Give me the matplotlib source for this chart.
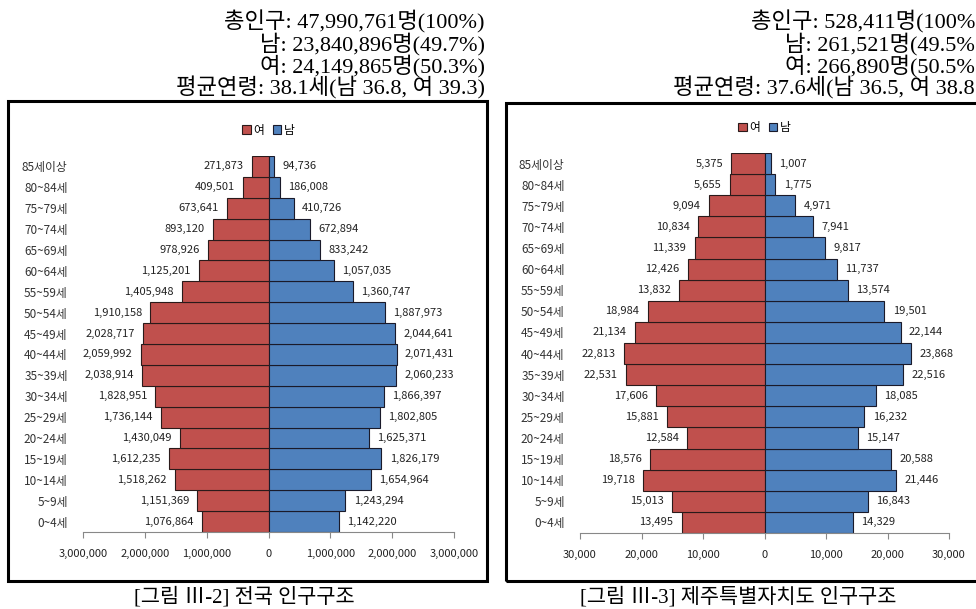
import matplotlib
matplotlib.use("Agg")
import matplotlib.pyplot as plt
from matplotlib.patches import Rectangle
from matplotlib.ticker import FuncFormatter

plt.rcParams['font.family'] = ['Noto Sans CJK KR', 'DejaVu Sans']
SERIF = ['Liberation Serif', 'Noto Sans CJK KR', 'DejaVu Sans']

# age groups, bottom to top
ages = ['0~4세', '5~9세', '10~14세', '15~19세', '20~24세', '25~29세', '30~34세',
        '35~39세', '40~44세', '45~49세', '50~54세', '55~59세', '60~64세',
        '65~69세', '70~74세', '75~79세', '80~84세', '85세이상']

nat_female = [1076864, 1151369, 1518262, 1612235, 1430049, 1736144, 1828951,
              2038914, 2059992, 2028717, 1910158, 1405948, 1125201, 978926,
              893120, 673641, 409501, 271873]
nat_male = [1142220, 1243294, 1654964, 1826179, 1625371, 1802805, 1866397,
            2060233, 2071431, 2044641, 1887973, 1360747, 1057035, 833242,
            672894, 410726, 186008, 94736]

jeju_female = [13495, 15013, 19718, 18576, 12584, 15881, 17606, 22531, 22813,
               21134, 18984, 13832, 12426, 11339, 10834, 9094, 5655, 5375]
jeju_male = [14329, 16843, 21446, 20588, 15147, 16232, 18085, 22516, 23868,
             22144, 19501, 13574, 11737, 9817, 7941, 4971, 1775, 1007]

nat_ticks = [-3000000, -2000000, -1000000, 0, 1000000, 2000000, 3000000]
jeju_ticks = [-30000, -20000, -10000, 0, 10000, 20000, 30000]

nat_title = ['총인구: 47,990,761명(100%)', '남: 23,840,896명(49.7%)',
             '여: 24,149,865명(50.3%)', '평균연령: 38.1세(남 36.8, 여 39.3)']
# the right block is cut at the page edge in the source
jeju_title = ['총인구: 528,411명(100%', '남: 261,521명(49.5%',
              '여: 266,890명(50.5%', '평균연령: 37.6세(남 36.5, 여 38.8']
nat_caption = '[그림 Ⅲ-2] 전국 인구구조'
jeju_caption = '[그림 Ⅲ-3] 제주특별자치도 인구구조'

W, H = 976, 609
RED = '#C0504D'
BLUE = '#4F81BD'

fig = plt.figure(figsize=(W / 100, H / 100), dpi=100)


def px(x0, y0, x1, y1):
    # pixel box -> figure fraction rect
    return [x0 / W, 1 - y1 / H, (x1 - x0) / W, (y1 - y0) / H]


def pyramid(rect, female, male, ticks, legend_y):
    ax = fig.add_axes(rect)
    y = list(range(len(ages)))
    ax.barh(y, [-v for v in female], height=1.0, color=RED, edgecolor='#2a1a1a',
            linewidth=0.8, label='여')
    ax.barh(y, male, height=1.0, color=BLUE, edgecolor='#1a1a2a',
            linewidth=0.8, label='남')
    for i in y:
        ax.annotate(f'{female[i]:,}', xy=(-female[i], i), xytext=(-6, 0),
                    textcoords='offset points', ha='right', va='center',
                    fontsize=8, color='#222222')
        ax.annotate(f'{male[i]:,}', xy=(male[i], i), xytext=(6, 0),
                    textcoords='offset points', ha='left', va='center',
                    fontsize=8, color='#222222')
    ax.set_xlim(ticks[0], ticks[-1])
    ax.set_ylim(-0.5, len(ages) - 0.5)
    ax.set_xticks(ticks)
    ax.xaxis.set_major_formatter(FuncFormatter(lambda v, p: f'{abs(int(v)):,}'))
    ax.tick_params(axis='x', direction='out', length=4, color='#888888',
                   labelsize=8, labelcolor='#222222', pad=8)
    ax.set_yticks(y)
    ax.set_yticklabels(ages)
    ax.tick_params(axis='y', length=0, pad=11, labelsize=8.5, labelcolor='#333333')
    for s in ['top', 'right', 'left']:
        ax.spines[s].set_visible(False)
    ax.spines['bottom'].set_color('#888888')
    ax.axvline(0, color='#888888', linewidth=0.8, zorder=0)
    ax.legend(loc='center', bbox_to_anchor=(0.5, legend_y), ncol=2, frameon=False,
              fontsize=8.5, handlelength=0.7, handleheight=0.7, handletextpad=0.2,
              columnspacing=0.8)
    return ax


pyramid(px(83, 156, 454, 532), nat_female, nat_male, nat_ticks, 1.069)
pyramid(px(580, 153, 949, 533), jeju_female, jeju_male, jeju_ticks, 1.066)

# boxes round the two charts
fig.patches.append(Rectangle((8 / W, 1 - 581 / H), (487 - 8) / W, (581 - 101) / H,
                             transform=fig.transFigure, fill=False,
                             edgecolor='black', linewidth=2.2))
fig.patches.append(Rectangle((506 / W, 1 - 581 / H), 480 / W, (581 - 103) / H,
                             transform=fig.transFigure, fill=False,
                             edgecolor='black', linewidth=2.2))

line_y = [22, 44, 66, 88]
for t, yy in zip(nat_title, line_y):
    fig.text(485 / W, 1 - yy / H, t, ha='right', va='center', fontsize=16,
             family=SERIF, fontweight='light')
for t, yy in zip(jeju_title, line_y):
    fig.text(975 / W, 1 - yy / H, t, ha='right', va='center', fontsize=16,
             family=SERIF, fontweight='light')

fig.text(244 / W, 1 - 597 / H, nat_caption, ha='center', va='center',
         fontsize=15, family=SERIF, fontweight='light')
fig.text(738 / W, 1 - 597 / H, jeju_caption, ha='center', va='center',
         fontsize=15, family=SERIF, fontweight='light')

fig.savefig('out.png', dpi=100)
